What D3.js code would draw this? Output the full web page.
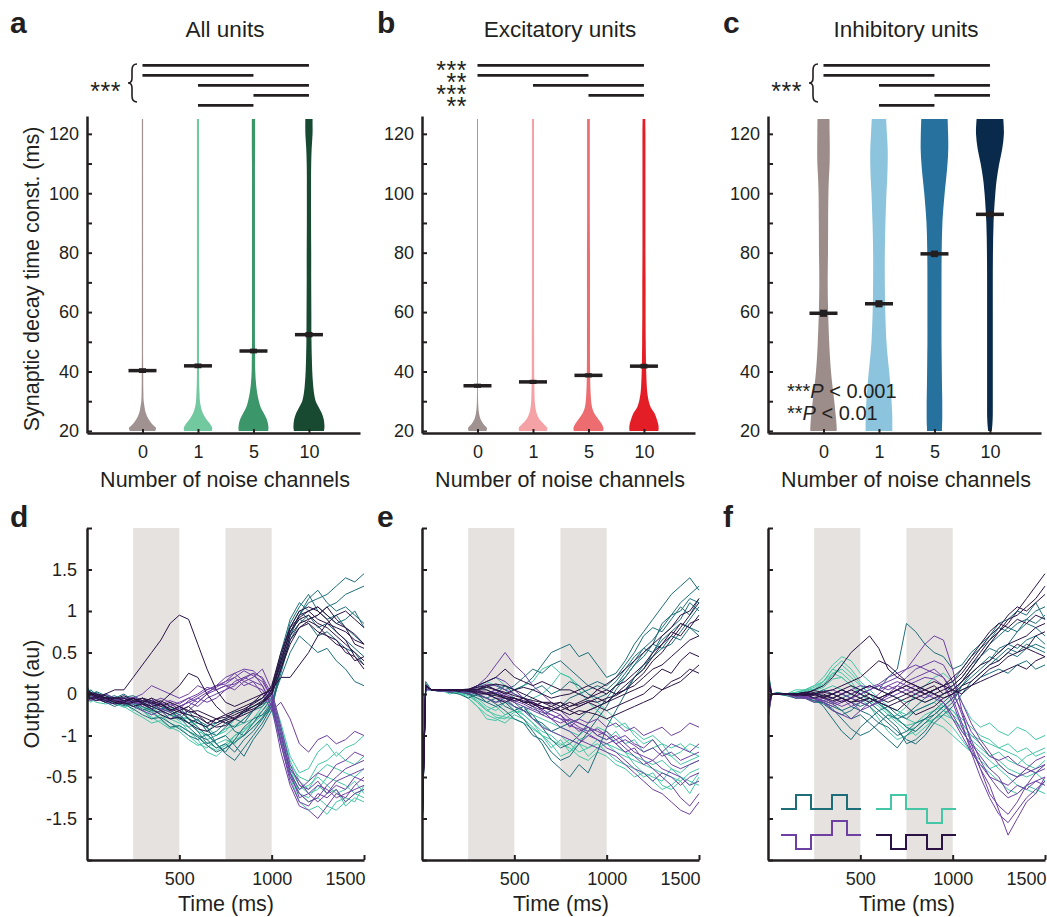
<!DOCTYPE html>
<html><head><meta charset="utf-8">
<script src="https://cdn.jsdelivr.net/npm/d3@7"></script>
<style>
body{margin:0;background:#fff;}
svg{font-family:"Liberation Sans",Arial,Helvetica,sans-serif;}
</style></head><body>
<svg id="chart" width="1047" height="917"></svg>
<script>
// ---------------- DATA ----------------
const categories = ["0","1","5","10"];
const violinGrid = [20,21,22,24,26,28,30,33,36,40,45,50,60,70,80,90,100,105,110,115,120,125];
// relative half-width (density) of each violin at violinGrid values
const allDensity = [
  [0.85,0.9,0.7,0.4,0.22,0.14,0.08,0.06,0.05,0.05,0.04,0.04,0.04,0.04,0.04,0.04,0.04,0.04,0.04,0.04,0.04,0.04],
  [0.92,0.95,0.85,0.55,0.32,0.2,0.13,0.1,0.08,0.07,0.07,0.07,0.07,0.07,0.07,0.07,0.07,0.07,0.07,0.07,0.07,0.07],
  [0.98,1.0,0.98,0.88,0.68,0.48,0.36,0.24,0.17,0.12,0.11,0.1,0.1,0.1,0.1,0.1,0.1,0.1,0.1,0.11,0.11,0.11],
  [1.0,1.03,1.03,0.98,0.85,0.65,0.45,0.33,0.27,0.22,0.19,0.17,0.16,0.15,0.15,0.14,0.14,0.14,0.15,0.18,0.24,0.24]
];
const excDensity = [
  [0.6,0.63,0.45,0.2,0.1,0.06,0.04,0.03,0.03,0.03,0.03,0.03,0.03,0.03,0.03,0.03,0.03,0.03,0.03,0.03,0.03,0.03],
  [0.92,0.95,0.78,0.42,0.24,0.16,0.12,0.1,0.09,0.08,0.08,0.08,0.07,0.07,0.07,0.07,0.07,0.07,0.07,0.07,0.07,0.07],
  [0.98,1.0,0.92,0.65,0.38,0.24,0.18,0.14,0.12,0.11,0.1,0.1,0.1,0.1,0.1,0.09,0.09,0.09,0.09,0.09,0.09,0.09],
  [0.96,0.98,0.96,0.85,0.7,0.45,0.32,0.22,0.18,0.15,0.13,0.12,0.11,0.11,0.1,0.1,0.1,0.1,0.1,0.1,0.1,0.09]
];
const inhDensity = [
  [0.88,0.88,0.87,0.84,0.8,0.76,0.72,0.65,0.58,0.5,0.43,0.38,0.31,0.28,0.3,0.31,0.33,0.36,0.41,0.42,0.41,0.4],
  [0.89,0.89,0.89,0.89,0.88,0.86,0.84,0.8,0.75,0.68,0.58,0.5,0.42,0.39,0.39,0.43,0.5,0.55,0.58,0.58,0.53,0.48],
  [0.5,0.5,0.51,0.52,0.52,0.52,0.52,0.51,0.5,0.49,0.48,0.47,0.47,0.47,0.48,0.53,0.68,0.78,0.87,0.92,0.91,0.88],
  [0.12,0.14,0.16,0.18,0.19,0.19,0.19,0.19,0.19,0.19,0.19,0.19,0.19,0.19,0.2,0.24,0.36,0.46,0.62,0.82,0.93,0.89]
];
const allMeans = [40.3,41.9,46.9,52.4];
const allSems  = [0.8,0.8,0.8,0.9];
const excMeans = [35.2,36.5,38.7,41.8];
const excSems  = [0.7,0.7,0.7,0.8];
const inhMeans = [59.6,62.8,79.6,92.9];
const inhSems  = [1.2,1.2,1.1,1.0];
const yTicksTop = [20,40,60,80,100,120];
const yMinorTop = [30,50,70,90,110];
const sigPairsAll = [[0,3],[0,2],[1,3],[2,3],[1,2]];
const sigPairsExc = [[0,3],[0,2],[1,3],[2,3]];
const sigStarsExc = ["***","**","***","**"];
const sigPairsInh = [[0,3],[0,2],[1,3],[2,3],[1,2]];

const times = [0,20,50,100,150,200,250,300, 350,400,450,500,550,600,650,700, 750,800,850,900,950,1000,1050,1100, 1150,1200,1250,1300,1350,1400,1450,1500];
const outTickValues = [1.5,1,0.5,0,-0.5,-1,-1.5];
const outTickLabels = ["1.5","1","0.5","0","-1","-0.5","-1.5"];
const outTickAll = [-2,-1.5,-1,-0.5,0,0.5,1,1.5,2];
const timeTicks = [500,1000,1500];
const stimWindows = [[250,500],[750,1000]];
const legendLevels = [[0,1,0,1,0],[0,-1,0,1,0],[0,1,0,-1,0],[0,-1,0,-1,0]];

// panel d traces
const dTeal = [
 [0.05,0.02,-0.05,-0.08,-0.05,0.0,-0.08,-0.15, -0.2,-0.22,-0.18,-0.3,-0.35,-0.45,-0.6,-0.55, -0.5,-0.62,-0.75,-0.55,-0.4,-0.2,0.3,0.7, 0.95,1.1,1.15,1.2,1.3,1.4,1.35,1.45],
 [-0.1,-0.05,0.0,-0.05,-0.1,-0.05,-0.1,-0.05, -0.1,-0.15,-0.2,-0.15,-0.3,-0.4,-0.5,-0.45, -0.35,-0.4,-0.3,-0.2,-0.15,0.0,0.45,0.85, 1.05,1.2,1.0,0.9,0.95,0.8,0.7,0.6],
 [0.1,0.0,-0.03,0.0,-0.05,-0.1,-0.05,-0.12, -0.08,-0.2,-0.25,-0.3,-0.2,-0.35,-0.4,-0.6, -0.7,-0.55,-0.4,-0.3,-0.25,-0.1,0.2,0.5, 0.7,0.6,0.5,0.55,0.4,0.3,0.15,0.1],
 [0.0,0.05,-0.02,-0.1,-0.15,-0.1,-0.12,-0.2, -0.15,-0.1,-0.2,-0.25,-0.35,-0.3,-0.45,-0.5, -0.4,-0.3,-0.35,-0.2,-0.1,0.05,0.5,0.9, 1.1,1.0,1.05,0.95,0.85,0.9,1.0,0.8],
 [-0.05,0.0,0.02,-0.05,-0.02,-0.08,-0.15,-0.1, -0.18,-0.12,-0.22,-0.28,-0.4,-0.5,-0.55,-0.65, -0.6,-0.7,-0.55,-0.45,-0.3,-0.15,0.25,0.65, 0.85,0.95,0.8,0.85,0.75,0.65,0.55,0.45],
 [0.02,-0.03,-0.06,-0.1,-0.08,-0.12,-0.18,-0.25, -0.3,-0.28,-0.35,-0.42,-0.5,-0.55,-0.48,-0.6, -0.72,-0.8,-0.65,-0.5,-0.35,-0.15,0.35,0.8, 1.0,0.9,0.95,1.05,1.1,1.2,1.25,1.3],
 [-0.08,-0.02,0.03,-0.02,-0.06,-0.04,-0.02,-0.08, -0.12,-0.18,-0.15,-0.2,-0.25,-0.32,-0.38,-0.35, -0.3,-0.45,-0.5,-0.35,-0.2,-0.05,0.4,0.75, 0.9,0.85,0.7,0.75,0.65,0.55,0.5,0.35],
 [0.06,0.0,-0.04,-0.06,-0.1,-0.14,-0.1,-0.18, -0.22,-0.3,-0.4,-0.38,-0.45,-0.52,-0.62,-0.7, -0.65,-0.58,-0.5,-0.4,-0.28,-0.12,0.3,0.7, 0.95,1.15,1.25,1.1,1.0,1.05,0.95,0.85]
];
const dLightTeal = [
 [-0.05,-0.1,-0.05,-0.1,-0.08,-0.12,-0.15,-0.2, -0.3,-0.25,-0.35,-0.4,-0.5,-0.6,-0.65,-0.55, -0.5,-0.4,-0.35,-0.3,-0.2,-0.1,-0.5,-0.9, -1.1,-1.2,-1.15,-1.0,-1.05,-1.1,-1.2,-1.15],
 [0.05,0.0,-0.05,-0.02,-0.05,-0.08,-0.1,-0.05, -0.12,-0.2,-0.15,-0.25,-0.35,-0.3,-0.45,-0.35, -0.3,-0.2,-0.25,-0.1,-0.05,0.0,-0.35,-0.75, -0.95,-0.9,-0.7,-0.6,-0.75,-0.65,-0.6,-0.5],
 [-0.1,-0.05,0.0,-0.05,-0.1,-0.05,-0.08,-0.15, -0.25,-0.2,-0.3,-0.28,-0.3,-0.45,-0.5,-0.6, -0.55,-0.6,-0.45,-0.35,-0.25,-0.2,-0.6,-1.0, -1.3,-1.4,-1.35,-1.45,-1.3,-1.25,-1.3,-1.1],
 [0.0,0.05,0.0,-0.05,-0.05,-0.1,-0.2,-0.1, -0.15,-0.25,-0.3,-0.35,-0.4,-0.35,-0.4,-0.5, -0.45,-0.3,-0.2,-0.15,-0.1,-0.05,-0.4,-0.8, -1.05,-1.15,-0.95,-0.85,-0.9,-0.95,-1.0,-0.9],
 [0.08,0.02,-0.02,-0.08,-0.12,-0.08,-0.05,-0.12, -0.2,-0.3,-0.25,-0.32,-0.45,-0.55,-0.7,-0.75, -0.65,-0.5,-0.45,-0.3,-0.15,-0.05,-0.45,-0.95, -1.2,-1.25,-1.1,-1.2,-1.15,-1.35,-1.25,-1.3],
 [-0.02,-0.06,-0.1,-0.12,-0.1,-0.15,-0.22,-0.28, -0.35,-0.32,-0.4,-0.45,-0.55,-0.62,-0.58,-0.65, -0.6,-0.5,-0.42,-0.35,-0.25,-0.15,-0.55,-0.95, -1.15,-1.1,-1.0,-1.1,-1.2,-1.15,-1.05,-1.2],
 [0.03,-0.02,-0.04,-0.08,-0.06,-0.04,-0.1,-0.16, -0.2,-0.15,-0.22,-0.3,-0.28,-0.4,-0.55,-0.5, -0.42,-0.38,-0.3,-0.2,-0.12,-0.08,-0.45,-0.85, -1.0,-1.05,-0.85,-0.8,-0.7,-0.8,-0.85,-0.75],
 [-0.06,-0.08,-0.02,-0.06,-0.12,-0.16,-0.12,-0.2, -0.28,-0.35,-0.42,-0.38,-0.45,-0.5,-0.62,-0.68, -0.62,-0.55,-0.5,-0.4,-0.3,-0.12,-0.5,-0.9, -1.2,-1.3,-1.25,-1.35,-1.4,-1.3,-1.2,-1.25]
];
const dPurple = [
 [0.0,-0.05,0.0,-0.05,-0.1,-0.05,-0.1,-0.05, -0.15,-0.1,-0.2,-0.15,-0.1,-0.15,-0.05,0.0, 0.05,0.15,0.2,0.25,0.1,-0.1,-0.6,-1.0, -1.2,-1.3,-1.25,-1.1,-1.0,-0.9,-0.85,-0.8],
 [-0.1,-0.05,-0.05,0.0,-0.05,-0.1,-0.05,-0.1, -0.05,-0.2,-0.15,-0.1,-0.05,-0.1,0.0,0.05, 0.1,0.05,0.15,0.2,0.3,0.05,-0.4,-0.85, -1.1,-1.15,-1.05,-1.2,-1.1,-1.15,-1.0,-1.05],
 [0.05,0.0,-0.05,-0.05,-0.08,-0.12,-0.08,-0.15, -0.1,-0.05,-0.1,-0.2,-0.15,-0.05,-0.1,-0.05, 0.05,0.1,0.2,0.15,0.1,-0.15,-0.7,-1.1, -1.35,-1.4,-1.5,-1.35,-1.2,-1.25,-1.1,-1.0],
 [0.0,0.0,-0.02,-0.05,-0.05,-0.05,-0.05,0.0, 0.1,0.05,0.0,-0.05,0.0,0.1,0.05,0.1, 0.15,0.2,0.1,0.15,0.0,-0.2,-0.1,-0.3, -0.6,-0.7,-0.55,-0.5,-0.6,-0.55,-0.45,-0.5],
 [-0.05,-0.08,-0.05,-0.1,-0.12,-0.1,-0.15,-0.2, -0.25,-0.2,-0.3,-0.25,-0.2,-0.1,0.0,0.1, 0.2,0.25,0.15,0.1,0.05,-0.15,-0.55,-0.95, -1.15,-1.05,-0.95,-1.0,-0.85,-0.8,-0.7,-0.75],
 [-0.02,-0.06,-0.08,-0.06,-0.1,-0.08,-0.12,-0.1, -0.08,-0.15,-0.12,-0.18,-0.08,-0.02,0.05,0.1, 0.12,0.2,0.28,0.22,0.15,-0.05,-0.5,-0.9, -1.05,-1.2,-1.1,-1.15,-1.25,-1.2,-1.15,-1.1],
 [0.02,0.0,-0.03,-0.08,-0.06,-0.1,-0.08,-0.12, -0.18,-0.12,-0.08,-0.12,-0.05,0.0,0.08,0.05, 0.1,0.12,0.18,0.25,0.2,0.0,-0.45,-0.95, -1.25,-1.2,-1.3,-1.2,-1.05,-1.0,-0.95,-0.9],
 [-0.04,-0.02,-0.06,-0.04,-0.08,-0.06,-0.04,-0.08, -0.12,-0.18,-0.22,-0.15,-0.1,-0.05,0.02,0.08, 0.15,0.25,0.3,0.28,0.18,-0.05,-0.6,-1.05, -1.3,-1.35,-1.2,-1.25,-1.15,-1.3,-1.2,-1.15]
];
const dDarkPurple = [
 [0.0,0.0,-0.05,0.0,0.05,0.05,0.2,0.35, 0.5,0.65,0.85,0.95,0.9,0.6,0.3,0.05, -0.1,-0.15,-0.1,-0.05,0.0,0.05,0.2,0.2, 0.35,0.5,0.7,0.85,0.95,1.0,0.9,0.8],
 [0.0,-0.05,-0.05,-0.1,-0.05,-0.05,-0.1,-0.08, -0.1,-0.15,-0.1,-0.15,-0.2,-0.25,-0.3,-0.35, -0.3,-0.25,-0.2,-0.15,-0.1,0.05,0.4,0.75, 0.9,0.95,0.85,0.8,0.7,0.6,0.5,0.4],
 [-0.05,0.0,0.0,-0.02,-0.08,-0.1,-0.05,-0.1, -0.05,-0.1,0.0,0.1,0.25,0.2,0.0,-0.15, -0.25,-0.3,-0.2,-0.1,-0.05,0.1,0.5,0.8, 1.0,1.05,1.0,0.9,0.75,0.65,0.45,0.35],
 [0.05,0.02,0.0,-0.05,-0.1,-0.08,-0.05,-0.12, -0.15,-0.2,-0.25,-0.2,-0.3,-0.35,-0.4,-0.3, -0.25,-0.2,-0.15,-0.1,0.0,0.05,0.35,0.7, 0.85,0.9,0.95,1.05,0.9,0.8,0.6,0.55],
 [-0.02,-0.05,-0.08,-0.05,-0.1,-0.12,-0.1,-0.05, -0.12,-0.08,-0.15,-0.2,-0.15,-0.25,-0.35,-0.3, -0.35,-0.3,-0.25,-0.2,-0.1,0.0,0.3,0.6, 0.8,0.85,0.75,0.7,0.65,0.5,0.45,0.3],
 [0.02,0.0,-0.02,-0.06,-0.04,-0.08,-0.06,-0.1, -0.15,-0.12,-0.18,-0.22,-0.25,-0.28,-0.35,-0.4, -0.38,-0.3,-0.22,-0.15,-0.08,0.02,0.4,0.75, 0.95,1.0,0.9,0.85,0.8,0.75,0.65,0.6],
 [-0.04,-0.06,-0.02,-0.04,-0.06,-0.02,-0.08,-0.05, -0.08,-0.12,-0.2,-0.15,-0.22,-0.2,-0.25,-0.3, -0.28,-0.22,-0.18,-0.12,-0.05,0.08,0.45,0.8, 0.92,1.0,1.05,0.95,0.85,0.8,0.72,0.6],
 [0.0,0.02,-0.03,-0.08,-0.12,-0.1,-0.15,-0.12, -0.18,-0.25,-0.3,-0.28,-0.35,-0.42,-0.45,-0.38, -0.32,-0.28,-0.22,-0.18,-0.12,0.0,0.3,0.65, 0.8,0.88,0.82,0.7,0.6,0.55,0.4,0.45]
];
// panel e traces
const eTeal = [
 [-1.6,0.1,0.05,0.05,0.03,0.05,0.0,-0.05, -0.1,-0.15,-0.1,-0.2,-0.3,-0.45,-0.6,-0.8, -0.9,-1.0,-0.85,-0.95,-0.7,-0.4,-0.2,0.0, 0.2,0.3,0.5,0.7,0.8,0.9,1.1,1.0],
 [-1.7,0.15,0.05,0.03,0.05,0.02,0.05,0.1, 0.05,0.0,0.1,0.05,0.1,0.2,0.35,0.5, 0.55,0.6,0.45,0.5,0.35,0.2,0.25,0.4, 0.6,0.75,0.9,1.05,1.2,1.3,1.4,1.25],
 [-1.5,0.1,0.05,0.05,0.02,0.0,-0.05,0.0, -0.1,-0.05,-0.15,-0.2,-0.15,-0.3,-0.35,-0.45, -0.4,-0.35,-0.3,-0.2,-0.15,-0.1,0.0,0.05, 0.2,0.35,0.45,0.55,0.7,0.65,0.8,0.75],
 [-1.7,0.05,0.05,0.05,0.05,0.05,0.0,0.05, 0.0,0.05,0.1,0.0,-0.05,0.05,0.1,0.0, 0.05,0.15,0.1,0.0,-0.05,0.0,0.1,0.2, 0.35,0.45,0.6,0.55,0.6,0.75,0.9,1.05],
 [-1.6,0.12,0.05,0.04,0.05,0.03,0.02,0.0, -0.05,0.0,-0.05,-0.1,-0.2,-0.25,-0.4,-0.55, -0.65,-0.6,-0.5,-0.35,-0.2,-0.05,0.1,0.25, 0.4,0.55,0.65,0.8,0.95,1.0,1.15,1.1],
 [-1.6,0.1,0.05,0.04,0.03,0.05,0.02,0.05, 0.08,0.12,0.05,0.1,0.2,0.3,0.25,0.35, 0.4,0.3,0.2,0.1,0.15,0.1,0.2,0.35, 0.5,0.7,0.8,0.75,0.9,1.05,0.95,1.15],
 [-1.7,0.1,0.05,0.05,0.05,0.03,0.0,-0.02, -0.05,-0.1,-0.05,-0.15,-0.2,-0.15,-0.25,-0.2, -0.15,-0.05,0.0,0.05,0.1,0.05,0.15,0.3, 0.45,0.55,0.5,0.65,0.75,0.85,0.8,0.7],
 [-1.55,0.12,0.05,0.05,0.04,0.04,0.03,0.0, -0.05,-0.12,-0.2,-0.3,-0.35,-0.5,-0.55,-0.7, -0.8,-0.75,-0.6,-0.45,-0.3,-0.15,0.05,0.2, 0.35,0.5,0.6,0.85,0.95,1.1,1.2,1.3]
];
const eLightTeal = [
 [-1.6,0.1,0.05,0.05,0.0,0.03,-0.05,-0.15, -0.25,-0.3,-0.35,-0.25,-0.3,-0.4,-0.5,-0.65, -0.55,-0.7,-0.6,-0.75,-0.65,-0.6,-0.7,-0.75, -0.8,-0.85,-0.9,-0.95,-1.0,-1.05,-0.95,-0.9],
 [-1.7,0.1,0.05,0.03,0.05,0.05,0.0,-0.1, -0.2,-0.15,-0.25,-0.2,-0.15,-0.25,-0.3,-0.35, -0.4,-0.45,-0.5,-0.4,-0.5,-0.55,-0.45,-0.6, -0.55,-0.7,-0.65,-0.6,-0.75,-0.7,-0.6,-0.65],
 [-1.5,0.1,0.05,0.05,0.02,0.05,0.05,0.1, 0.15,0.2,0.1,0.05,0.1,0.15,0.3,0.35, 0.25,0.2,0.05,-0.1,-0.2,-0.3,-0.4,-0.35, -0.5,-0.6,-0.55,-0.7,-0.75,-0.85,-0.8,-0.75],
 [-1.7,0.05,0.05,0.05,0.03,0.0,0.0,-0.05, -0.15,-0.2,-0.1,-0.15,-0.25,-0.35,-0.5,-0.6, -0.75,-0.7,-0.55,-0.5,-0.4,-0.45,-0.6,-0.7, -0.85,-0.95,-1.0,-1.05,-0.9,-1.0,-1.1,-0.95],
 [-1.6,0.08,0.05,0.05,0.03,0.02,0.0,-0.08, -0.18,-0.28,-0.3,-0.22,-0.2,-0.3,-0.38,-0.45, -0.5,-0.6,-0.7,-0.65,-0.6,-0.7,-0.8,-0.85, -0.9,-1.0,-0.95,-1.1,-1.15,-1.05,-1.2,-1.0],
 [-1.65,0.1,0.05,0.05,0.02,0.02,-0.05,-0.15, -0.3,-0.32,-0.25,-0.2,-0.25,-0.35,-0.45,-0.5, -0.6,-0.65,-0.75,-0.8,-0.7,-0.75,-0.85,-0.9, -1.0,-0.95,-1.05,-1.15,-1.1,-1.0,-1.05,-1.1],
 [-1.7,0.08,0.05,0.04,0.04,0.03,0.05,0.08, 0.15,0.1,0.05,-0.05,-0.1,-0.05,0.0,0.1, 0.25,0.2,0.1,0.0,-0.1,-0.2,-0.3,-0.4, -0.45,-0.55,-0.5,-0.6,-0.65,-0.6,-0.7,-0.75],
 [-1.55,0.1,0.05,0.05,0.03,0.02,-0.02,-0.1, -0.2,-0.25,-0.28,-0.3,-0.35,-0.42,-0.5,-0.55, -0.62,-0.55,-0.6,-0.65,-0.55,-0.6,-0.65,-0.7, -0.75,-0.8,-0.85,-0.8,-0.9,-0.95,-0.85,-0.8]
];
const ePurple = [
 [-1.7,0.1,0.05,0.05,0.05,0.05,0.05,0.1, 0.2,0.35,0.5,0.35,0.25,0.1,0.0,-0.1, -0.2,-0.3,-0.35,-0.4,-0.45,-0.5,-0.6,-0.7, -0.65,-0.8,-0.9,-1.0,-1.1,-1.25,-1.35,-1.2],
 [-1.6,0.1,0.05,0.03,0.05,0.03,0.0,0.05, 0.0,-0.05,-0.05,-0.1,-0.15,-0.2,-0.25,-0.3, -0.35,-0.3,-0.35,-0.4,-0.5,-0.45,-0.55,-0.5, -0.6,-0.65,-0.55,-0.7,-0.6,-0.65,-0.7,-0.6],
 [-1.7,0.05,0.05,0.05,0.02,0.05,0.05,0.05, 0.1,0.05,0.0,-0.05,-0.1,-0.1,-0.15,-0.2, -0.25,-0.35,-0.45,-0.4,-0.5,-0.55,-0.5,-0.6, -0.7,-0.75,-0.8,-0.7,-0.85,-0.9,-0.85,-0.8],
 [-1.5,0.1,0.05,0.05,0.05,0.05,0.05,0.05, 0.0,0.05,-0.05,-0.1,-0.05,-0.15,-0.2,-0.3, -0.25,-0.4,-0.3,-0.35,-0.3,-0.4,-0.35,-0.45, -0.4,-0.5,-0.45,-0.4,-0.5,-0.45,-0.35,-0.4],
 [-1.65,0.08,0.05,0.04,0.05,0.04,0.03,0.0, -0.05,-0.1,-0.08,-0.15,-0.2,-0.3,-0.4,-0.45, -0.5,-0.55,-0.6,-0.5,-0.55,-0.65,-0.7,-0.8, -0.9,-0.95,-1.05,-0.95,-1.0,-1.1,-1.0,-0.95],
 [-1.6,0.1,0.05,0.04,0.05,0.05,0.05,0.08, 0.12,0.1,0.05,0.0,-0.05,-0.12,-0.18,-0.25, -0.3,-0.38,-0.42,-0.48,-0.55,-0.6,-0.55,-0.65, -0.75,-0.85,-0.8,-0.9,-0.95,-1.0,-1.1,-1.05],
 [-1.7,0.1,0.05,0.05,0.04,0.04,0.04,0.02, 0.0,0.02,-0.02,-0.08,-0.12,-0.18,-0.22,-0.25, -0.3,-0.32,-0.4,-0.45,-0.42,-0.5,-0.6,-0.55, -0.62,-0.7,-0.65,-0.75,-0.7,-0.8,-0.75,-0.7],
 [-1.55,0.09,0.05,0.05,0.05,0.04,0.05,0.1, 0.15,0.2,0.15,0.05,-0.05,-0.1,-0.2,-0.3, -0.4,-0.45,-0.55,-0.6,-0.65,-0.7,-0.75,-0.85, -0.95,-1.05,-1.15,-1.2,-1.3,-1.4,-1.45,-1.3]
];
const eDarkPurple = [
 [-1.7,0.1,0.05,0.05,0.05,0.05,0.05,0.05, 0.1,0.05,0.0,0.05,0.0,-0.05,-0.1,-0.1, -0.15,-0.1,-0.15,-0.1,-0.05,-0.1,0.0,0.05, 0.15,0.25,0.4,0.5,0.65,0.8,0.95,1.1],
 [-1.6,0.1,0.05,0.05,0.05,0.05,0.05,0.05, 0.05,0.0,-0.05,-0.05,-0.1,-0.1,-0.15,-0.2, -0.15,-0.2,-0.25,-0.2,-0.15,-0.1,-0.05,0.0, 0.05,0.1,0.2,0.3,0.25,0.4,0.5,0.45],
 [-1.7,0.1,0.05,0.05,0.05,0.05,0.05,0.1, 0.15,0.2,0.3,0.2,0.15,0.1,0.15,0.1, 0.05,0.05,0.0,-0.05,0.0,0.05,0.0,0.1, 0.2,0.3,0.45,0.6,0.75,0.7,0.85,0.9],
 [-1.5,0.1,0.05,0.05,0.05,0.03,0.05,0.0, 0.0,-0.05,-0.1,-0.05,-0.1,-0.15,-0.1,-0.15, -0.1,-0.2,-0.15,-0.1,-0.15,-0.2,-0.15,-0.1, -0.05,0.0,0.1,0.05,0.15,0.2,0.3,0.25],
 [-1.65,0.1,0.05,0.05,0.04,0.05,0.03,0.02, 0.0,-0.02,-0.05,-0.08,-0.05,-0.12,-0.18,-0.15, -0.2,-0.15,-0.1,-0.05,0.05,0.0,0.1,0.15, 0.25,0.35,0.5,0.6,0.7,0.85,0.8,0.95],
 [-1.65,0.1,0.05,0.05,0.05,0.05,0.05,0.06, 0.08,0.05,0.02,-0.02,-0.05,-0.08,-0.1,-0.12, -0.1,-0.15,-0.12,-0.08,-0.1,-0.05,-0.02,0.05, 0.1,0.2,0.3,0.35,0.45,0.55,0.65,0.7],
 [-1.7,0.1,0.05,0.05,0.05,0.05,0.04,0.03, 0.02,0.0,-0.03,-0.05,-0.08,-0.12,-0.15,-0.18, -0.2,-0.25,-0.2,-0.22,-0.25,-0.3,-0.25,-0.2, -0.15,-0.1,-0.05,0.05,0.1,0.15,0.25,0.35],
 [-1.6,0.1,0.05,0.05,0.05,0.05,0.06,0.08, 0.1,0.12,0.1,0.05,0.08,0.05,0.0,-0.05, -0.02,0.0,0.05,0.1,0.05,0.12,0.2,0.3, 0.4,0.5,0.6,0.7,0.8,0.95,1.0,1.15]
];
// panel f traces
const fTeal = [
 [0.3,0.0,0.0,0.0,-0.05,0.0,-0.05,-0.15, -0.3,-0.45,-0.55,-0.4,-0.3,-0.2,-0.3,-0.4, -0.6,-0.55,-0.45,-0.3,-0.2,-0.1,0.1,0.2, 0.3,0.4,0.55,0.6,0.75,0.85,0.8,0.7],
 [-0.3,0.0,0.02,0.0,0.0,0.0,0.0,0.05, 0.0,-0.05,0.0,0.05,0.1,0.05,0.2,0.3, 0.85,0.75,0.6,0.5,0.45,0.3,0.35,0.5, 0.6,0.7,0.85,0.9,1.0,0.95,1.1,0.9],
 [0.2,0.0,0.0,-0.02,-0.05,-0.05,-0.1,-0.1, -0.15,-0.2,-0.15,-0.2,-0.25,-0.35,-0.4,-0.5, -0.45,-0.35,-0.3,-0.25,-0.15,-0.05,0.05,0.1, 0.2,0.25,0.3,0.25,0.35,0.4,0.3,0.35],
 [-0.2,0.0,0.0,0.0,0.0,-0.05,0.0,-0.05, -0.1,-0.05,-0.1,-0.15,-0.1,-0.2,-0.15,-0.25, -0.3,-0.2,-0.15,-0.1,0.0,0.1,0.2,0.35, 0.45,0.55,0.5,0.6,0.55,0.65,0.7,0.6],
 [0.15,0.0,0.0,0.0,-0.02,0.0,-0.05,-0.08, -0.12,-0.2,-0.3,-0.25,-0.35,-0.45,-0.55,-0.65, -0.5,-0.4,-0.3,-0.2,-0.1,0.0,0.15,0.3, 0.45,0.6,0.7,0.8,0.75,0.9,1.0,1.05],
 [0.25,0.0,0.0,0.0,-0.02,-0.04,-0.08,-0.12, -0.2,-0.25,-0.2,-0.1,-0.15,-0.25,-0.35,-0.45, -0.55,-0.6,-0.5,-0.35,-0.25,-0.15,0.0,0.15, 0.25,0.35,0.45,0.55,0.5,0.6,0.55,0.5],
 [-0.25,0.0,0.0,0.0,0.0,0.02,0.0,-0.02, -0.05,0.0,-0.05,-0.1,-0.05,-0.12,-0.2,-0.3, -0.25,-0.15,-0.05,0.05,0.1,0.15,0.3,0.45, 0.55,0.65,0.8,0.75,0.85,0.9,0.85,0.95],
 [0.1,0.0,0.0,0.0,-0.03,-0.05,-0.08,-0.1, -0.18,-0.3,-0.42,-0.5,-0.45,-0.35,-0.25,-0.3, -0.4,-0.45,-0.35,-0.25,-0.15,-0.05,0.1,0.25, 0.35,0.45,0.4,0.5,0.45,0.55,0.6,0.55]
];
const fLightTeal = [
 [0.25,0.0,0.0,0.0,0.05,0.05,0.1,0.2, 0.35,0.45,0.4,0.25,0.15,0.05,0.0,-0.05, -0.1,-0.05,-0.1,-0.05,-0.15,-0.2,-0.3,-0.4, -0.5,-0.55,-0.65,-0.7,-0.75,-0.85,-0.9,-0.8],
 [-0.25,0.0,0.0,0.0,0.0,0.05,0.05,0.1, 0.25,0.3,0.2,0.1,0.0,-0.1,-0.2,-0.3, -0.4,-0.5,-0.4,-0.3,-0.25,-0.3,-0.45,-0.6, -0.7,-0.8,-0.9,-1.0,-1.1,-1.15,-1.2,-1.05],
 [0.1,0.0,0.0,-0.02,0.0,0.0,0.05,0.15, 0.3,0.25,0.15,0.0,-0.1,-0.2,-0.3,-0.25, -0.15,0.0,0.1,0.2,0.25,0.15,-0.1,-0.3, -0.4,-0.35,-0.45,-0.5,-0.4,-0.45,-0.55,-0.5],
 [-0.15,0.0,0.0,0.0,0.0,0.0,0.0,0.05, 0.1,0.05,0.0,-0.05,-0.15,-0.3,-0.45,-0.55, -0.5,-0.45,-0.35,-0.3,-0.2,-0.25,-0.35,-0.5, -0.6,-0.75,-0.7,-0.8,-0.85,-0.75,-0.7,-0.65],
 [0.05,0.0,0.0,0.0,0.02,0.05,0.1,0.15, 0.25,0.2,0.1,0.05,-0.05,-0.1,-0.15,-0.2, -0.3,-0.35,-0.3,-0.35,-0.4,-0.5,-0.6,-0.7, -0.8,-0.9,-0.85,-0.95,-1.0,-0.9,-0.95,-0.85],
 [0.2,0.0,0.0,0.0,0.02,0.04,0.08,0.15, 0.3,0.4,0.3,0.15,0.05,-0.05,-0.15,-0.2, -0.25,-0.2,-0.15,-0.1,-0.2,-0.3,-0.4,-0.55, -0.65,-0.75,-0.8,-0.9,-0.95,-1.0,-0.95,-1.05],
 [-0.2,0.0,0.0,0.0,0.0,0.02,0.04,0.08, 0.18,0.2,0.1,0.0,-0.08,-0.15,-0.25,-0.35, -0.45,-0.4,-0.3,-0.2,-0.15,-0.2,-0.35,-0.5, -0.55,-0.6,-0.65,-0.6,-0.7,-0.65,-0.75,-0.7],
 [0.05,0.0,0.0,0.0,0.0,0.03,0.06,0.12, 0.22,0.35,0.25,0.12,0.0,-0.12,-0.22,-0.32, -0.38,-0.35,-0.25,-0.2,-0.3,-0.4,-0.55,-0.7, -0.85,-0.95,-1.05,-1.15,-1.2,-1.1,-1.15,-1.2]
];
const fPurple = [
 [0.2,0.0,0.0,0.0,0.0,-0.05,-0.05,-0.1, -0.15,-0.1,-0.05,0.0,0.05,0.1,0.15,0.2, 0.3,0.45,0.6,0.7,0.65,0.3,-0.2,-0.6, -0.9,-1.1,-1.4,-1.7,-1.5,-1.3,-1.2,-1.0],
 [-0.3,0.0,0.0,0.0,-0.02,-0.05,-0.1,-0.05, -0.1,-0.15,-0.1,-0.2,-0.15,-0.1,0.0,0.1, 0.05,0.0,-0.05,0.0,-0.1,-0.3,-0.5,-0.7, -0.85,-1.0,-1.05,-1.1,-1.0,-0.95,-0.9,-0.85],
 [0.15,0.0,0.0,0.0,0.0,0.0,-0.05,-0.05, 0.0,0.05,0.0,0.05,0.1,0.05,0.1,0.05, 0.15,0.2,0.25,0.3,0.2,0.0,-0.2,-0.45, -0.6,-0.75,-0.8,-0.75,-0.85,-0.9,-0.8,-0.75],
 [-0.2,0.0,0.0,0.0,-0.05,-0.05,0.0,-0.05, -0.1,-0.05,-0.15,-0.1,-0.05,-0.1,-0.05,0.0, 0.05,0.1,0.0,0.05,0.1,-0.1,-0.4,-0.65, -0.9,-1.2,-1.35,-1.45,-1.3,-1.1,-0.95,-0.85],
 [0.1,0.0,0.0,0.0,-0.03,-0.02,-0.05,-0.1, -0.2,-0.25,-0.3,-0.2,-0.1,0.0,0.1,0.15, 0.1,0.05,0.0,-0.05,-0.1,-0.25,-0.45,-0.6, -0.75,-0.9,-1.0,-1.2,-1.1,-1.15,-1.05,-1.1],
 [0.18,0.0,0.0,0.0,-0.02,-0.04,-0.06,-0.08, -0.05,0.0,0.05,0.1,0.08,0.12,0.2,0.25, 0.3,0.35,0.3,0.25,0.2,0.05,-0.25,-0.55, -0.8,-1.0,-1.15,-1.25,-1.2,-1.1,-1.05,-1.0],
 [-0.25,0.0,0.0,0.0,-0.02,-0.03,-0.05,-0.08, -0.12,-0.08,-0.05,-0.1,-0.15,-0.08,-0.02,0.05, 0.1,0.15,0.2,0.18,0.1,-0.05,-0.35,-0.7, -1.0,-1.25,-1.45,-1.55,-1.4,-1.25,-1.15,-1.05],
 [0.08,0.0,0.0,0.0,0.0,-0.02,0.0,0.02, 0.05,0.0,-0.05,0.0,0.05,0.1,0.05,0.1, 0.2,0.3,0.35,0.4,0.35,0.15,-0.1,-0.35, -0.55,-0.7,-0.85,-0.95,-1.0,-0.9,-0.95,-0.9]
];
const fDarkPurple = [
 [0.1,0.0,0.0,0.0,0.0,0.0,0.05,0.1, 0.2,0.35,0.5,0.6,0.7,0.55,0.3,0.2, 0.15,0.1,0.05,0.1,0.0,0.05,0.15,0.3, 0.45,0.6,0.75,0.85,1.0,1.15,1.3,1.45],
 [-0.1,0.0,0.0,0.0,0.0,-0.02,0.0,-0.05, 0.0,-0.05,-0.1,-0.05,0.0,-0.05,-0.1,-0.05, 0.0,0.05,0.1,0.15,0.1,0.15,0.25,0.4, 0.55,0.7,0.8,0.95,1.05,1.0,1.1,1.2],
 [0.2,0.0,0.0,0.0,0.0,0.02,0.0,0.0, -0.05,0.0,0.05,0.0,-0.05,-0.1,-0.15,-0.2, -0.1,-0.05,0.0,0.05,0.1,0.05,0.0,0.1, 0.2,0.3,0.35,0.45,0.5,0.55,0.5,0.45],
 [-0.2,0.0,0.0,0.0,0.0,0.0,-0.05,-0.02, -0.05,-0.1,-0.05,0.05,0.1,0.05,0.0,-0.05, -0.15,-0.25,-0.2,-0.15,-0.05,0.0,0.1,0.15, 0.25,0.35,0.4,0.5,0.6,0.55,0.7,0.75],
 [0.05,0.0,0.0,0.0,-0.02,0.0,0.02,-0.03, 0.0,0.05,0.0,-0.05,-0.1,-0.05,0.0,0.05, 0.1,0.05,0.0,0.05,0.1,0.2,0.3,0.45, 0.6,0.75,0.85,0.8,0.9,0.85,0.95,0.9],
 [-0.15,0.0,0.0,0.0,0.0,0.0,-0.02,-0.04, -0.08,-0.05,-0.1,-0.08,-0.05,-0.1,-0.15,-0.1, -0.05,0.0,0.05,0.0,0.05,0.1,0.2,0.35, 0.5,0.65,0.75,0.9,0.95,1.05,1.15,1.3],
 [0.15,0.0,0.0,0.0,0.0,0.02,0.04,0.02, 0.0,0.05,0.1,0.05,0.0,-0.05,0.0,0.05, 0.0,-0.05,-0.1,-0.05,0.0,0.05,0.15,0.25, 0.35,0.4,0.5,0.6,0.65,0.7,0.8,0.85],
 [-0.05,0.0,0.0,0.0,0.0,-0.02,0.0,0.03, 0.05,0.1,0.15,0.2,0.3,0.4,0.35,0.25, 0.15,0.1,0.05,0.0,-0.05,0.0,0.05,0.1, 0.15,0.2,0.25,0.3,0.35,0.3,0.4,0.45]
];

// ---------------- STYLE ----------------
const INK = "#231f20";
const FONT = '"Liberation Sans", Arial, Helvetica, sans-serif';
const allColors = ["#a09290","#72c9a0","#3b9669","#174a31"];
const excColors = ["#a09290","#f5a2a6","#ed6c6f","#e41e26"];
const inhColors = ["#9d8d8a","#8cc3dd","#26719e","#0a2a4c"];
const traceColors = {teal:"#1d6e79", lightTeal:"#45c6a6", purple:"#6e40a3", darkPurple:"#2a1244"};

const svg = d3.select("#chart");

function styleAxis(g, fs) {
  g.select(".domain").attr("stroke", INK).attr("stroke-width", 2.5);
  g.selectAll(".tick line").attr("stroke", INK).attr("stroke-width", 2);
  g.selectAll(".tick text").attr("fill", INK).style("font-size", fs + "px").style("font-family", FONT);
}
function addText(g, x, y, txt, size, opts = {}) {
  const t = g.append("text").attr("x", x).attr("y", y).text(txt)
    .attr("fill", INK).style("font-size", size + "px").style("font-family", FONT)
    .attr("text-anchor", opts.anchor || "start");
  if (opts.weight) t.style("font-weight", opts.weight);
  if (opts.ls) t.style("letter-spacing", opts.ls + "px");
  return t;
}
function bracePath(xr, y0, y1) {
  const xm = xr - 5, ym = (y0 + y1) / 2;
  return `M${xr},${y0} Q${xm},${y0} ${xm},${y0 + 6} L${xm},${ym - 5} Q${xm},${ym} ${xr - 9},${ym} Q${xm},${ym} ${xm},${ym + 5} L${xm},${y1 - 6} Q${xm},${y1} ${xr},${y1}`;
}

function violinPanel(cfg) {
  const ax = cfg.axisX;
  const x = d3.scaleLinear().domain([-1, 3.92]).range([ax, ax + 273]);
  const y = d3.scaleLinear().domain([19.3, 126]).range([433, 116]);
  const w = d3.scaleLinear().domain([0, 1]).range([0, 15]);
  const g = svg.append("g");

  cfg.dens.forEach((dv, i) => {
    const pts = violinGrid.map((v, k) => ({v: v, d: dv[k]}));
    const area = d3.area().curve(d3.curveCatmullRom)
      .y(p => y(p.v)).x0(p => x(i) - w(p.d)).x1(p => x(i) + w(p.d));
    g.append("path").attr("d", area(pts)).attr("fill", cfg.colors[i]);
  });
  cfg.means.forEach((m, i) => {
    g.append("rect").attr("x", x(i) - 14).attr("y", y(m) - 1.75).attr("width", 28).attr("height", 3.5).attr("fill", INK);
    const s = cfg.sems[i];
    const h = Math.max(y(m - s) - y(m + s), 3.5);
    g.append("rect").attr("x", x(i) - 3.5).attr("y", y(m) - h / 2).attr("width", 7).attr("height", h).attr("fill", INK);
  });

  const yAx = g.append("g").attr("transform", `translate(${ax},0)`)
    .call(d3.axisLeft(y).tickValues(yTicksTop).tickSize(-5).tickSizeOuter(0).tickPadding(8));
  styleAxis(yAx, 18);
  const yMin = g.append("g").attr("transform", `translate(${ax},0)`)
    .call(d3.axisLeft(y).tickValues(yMinorTop).tickFormat("").tickSize(-5).tickSizeOuter(0));
  yMin.select(".domain").remove();
  styleAxis(yMin, 18);
  const xAx = g.append("g").attr("transform", "translate(0,433)")
    .call(d3.axisBottom(x).tickValues([0,1,2,3]).tickFormat(i => categories[i]).tickSize(-4).tickSizeOuter(0).tickPadding(12));
  styleAxis(xAx, 18);

  addText(g, ax + 138, 487, "Number of noise channels", 21.5, {anchor: "middle"});
  addText(g, ax + 138, 37, cfg.title, 22.5, {anchor: "middle"});
  addText(g, cfg.letterX, 33, cfg.letter, 30, {weight: "bold"});

  cfg.sigPairs.forEach((p, k) => {
    g.append("line").attr("x1", x(p[0])).attr("x2", x(p[1]))
      .attr("y1", 65.3 + 10 * k).attr("y2", 65.3 + 10 * k)
      .attr("stroke", INK).attr("stroke-width", 2.7);
  });
  if (cfg.brace) {
    g.append("path").attr("d", bracePath(cfg.braceX, 64, 102)).attr("fill", "none").attr("stroke", INK).attr("stroke-width", 1.6);
    addText(g, cfg.braceX - 16, 100, "***", 25, {anchor: "end", ls: 0.5});
  }
  if (cfg.stars) {
    const cy = [64, 76.5, 88, 100];
    const t = g.append("text").attr("fill", INK).style("font-size", "25px").style("font-family", FONT)
      .style("letter-spacing", "0.5px").attr("text-anchor", "end");
    cfg.stars.forEach((s, k) => t.append("tspan").attr("x", ax + 45).attr("y", cy[k] + 14.5).text(s));
  }
  return {g, x, y};
}

violinPanel({axisX: 87, letterX: 10, letter: "a", title: "All units", colors: allColors, dens: allDensity,
  means: allMeans, sems: allSems, sigPairs: sigPairsAll, brace: true, braceX: 137});
violinPanel({axisX: 422, letterX: 377, letter: "b", title: "Excitatory units", colors: excColors, dens: excDensity,
  means: excMeans, sems: excSems, sigPairs: sigPairsExc, stars: sigStarsExc});
violinPanel({axisX: 768, letterX: 723, letter: "c", title: "Inhibitory units", colors: inhColors, dens: inhDensity,
  means: inhMeans, sems: inhSems, sigPairs: sigPairsInh, brace: true, braceX: 818});

// y label top row
svg.append("text").attr("transform", "translate(32,279) rotate(-90)").attr("text-anchor", "middle")
  .attr("dominant-baseline", "central").attr("fill", INK).style("font-size", "21.5px").style("font-family", FONT)
  .text("Synaptic decay time const. (ms)");

// P-value legend in c
[["***", " < 0.001", 398], ["**", " < 0.01", 420]].forEach(r => {
  const t = svg.append("text").attr("x", 787).attr("y", r[2]).attr("fill", INK).style("font-size", "20px").style("font-family", FONT);
  t.append("tspan").text(r[0]);
  t.append("tspan").text("P").style("font-style", "italic");
  t.append("tspan").text(r[1]);
});

// ---------------- bottom panels ----------------
function tracePanel(cfg) {
  const ax = cfg.axisX;
  const x = d3.scaleLinear().domain([0, 1500]).range([ax, ax + 277]);
  const y = d3.scaleLinear().domain([-2, 2]).range([860, 528]);
  const g = svg.append("g");
  const clipId = "clip" + cfg.letter;
  g.append("clipPath").attr("id", clipId).append("rect")
    .attr("x", ax).attr("y", 528).attr("width", 280).attr("height", 332);

  stimWindows.forEach(s => {
    g.append("rect").attr("x", x(s[0])).attr("y", 528).attr("width", x(s[1]) - x(s[0])).attr("height", 332).attr("fill", "#e5e2e0");
  });
  const line = d3.line().x((d, i) => x(times[i])).y(d => y(d));
  const tg = g.append("g").attr("clip-path", `url(#${clipId})`);
  [["lightTeal", cfg.lightTeal], ["teal", cfg.teal], ["purple", cfg.purple], ["darkPurple", cfg.darkPurple]].forEach(([c, set]) => {
    set.forEach(tr => tg.append("path").attr("d", line(tr)).attr("fill", "none")
      .attr("stroke", traceColors[c]).attr("stroke-width", 1).attr("stroke-linejoin", "round"));
  });

  const lab = v => {
    if (!cfg.labels) return "";
    const k = outTickValues.indexOf(v);
    return k >= 0 ? outTickLabels[k] : "";
  };
  const yAx = g.append("g").attr("transform", `translate(${ax},0)`)
    .call(d3.axisLeft(y).tickValues(outTickAll).tickFormat(lab).tickSize(-5).tickSizeOuter(0).tickPadding(10));
  styleAxis(yAx, 18);
  const xAx = g.append("g").attr("transform", "translate(0,860)")
    .call(d3.axisBottom(x).tickValues(timeTicks).tickFormat(d3.format("d")).tickSize(-5).tickSizeOuter(0).tickPadding(12));
  styleAxis(xAx, 18);
  xAx.selectAll(".tick text").filter(d => d === 1500).attr("text-anchor", "end").attr("x", 1);
  addText(g, ax + 139, 911, "Time (ms)", 21.5, {anchor: "middle"});
  addText(g, cfg.letterX, 527, cfg.letter, 30, {weight: "bold"});
  return {g, x, y};
}

tracePanel({axisX: 87, letterX: 10, letter: "d", labels: true, teal: dTeal, lightTeal: dLightTeal, purple: dPurple, darkPurple: dDarkPurple});
tracePanel({axisX: 422, letterX: 377, letter: "e", labels: false, teal: eTeal, lightTeal: eLightTeal, purple: ePurple, darkPurple: eDarkPurple});
const pf = tracePanel({axisX: 768, letterX: 723, letter: "f", labels: false, teal: fTeal, lightTeal: fLightTeal, purple: fPurple, darkPurple: fDarkPurple});

svg.append("text").attr("transform", "translate(32,694) rotate(-90)").attr("text-anchor", "middle")
  .attr("dominant-baseline", "central").attr("fill", INK).style("font-size", "21.5px").style("font-family", FONT)
  .text("Output (au)");

// legend waveforms in f
const legendColors = [traceColors.teal, traceColors.purple, traceColors.lightTeal, traceColors.darkPurple];
const legendOrigins = [[781, 809], [781, 835], [876, 809], [876, 835]];
const segOffsets = [0, 15, 30, 51, 66, 80];
legendLevels.forEach((lv, k) => {
  const [ox, oy] = legendOrigins[k];
  const pts = lv.map((l, s) => [ox + segOffsets[s], oy - l * 14]);
  pts.push([ox + segOffsets[5], oy - lv[4] * 14]);
  const ln = d3.line().curve(d3.curveStepAfter);
  pf.g.append("path").attr("d", ln(pts)).attr("fill", "none").attr("stroke", legendColors[k]).attr("stroke-width", 2);
});
</script>
</body></html>
